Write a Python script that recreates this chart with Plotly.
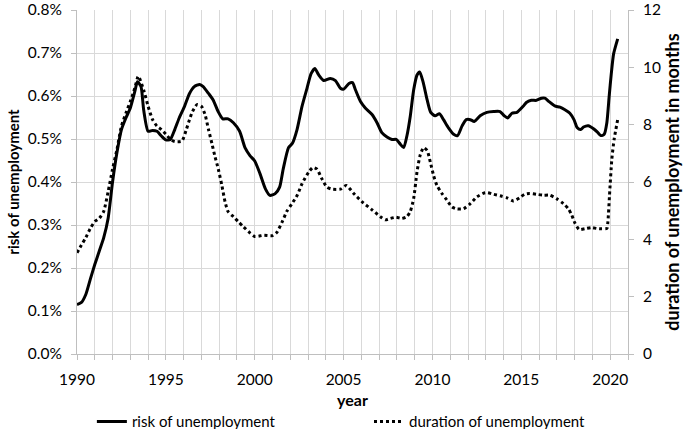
import plotly.graph_objects as go

# ---- data ----
risk_years = [1990.0, 1990.25, 1990.5, 1990.75, 1991.0, 1991.25, 1991.5, 1991.75, 1992.0, 1992.25,
              1992.5, 1992.75, 1993.0, 1993.25, 1993.4, 1993.6, 1993.75, 1994.0, 1994.25, 1994.5,
              1994.75, 1995.0, 1995.25, 1995.5, 1995.75, 1996.05, 1996.33, 1996.6, 1996.9, 1997.1,
              1997.4, 1997.66, 1997.94, 1998.2, 1998.5, 1998.8, 1999.15, 1999.45, 1999.74, 2000.0,
              2000.3, 2000.6, 2000.85, 2001.15, 2001.4, 2001.6, 2001.9, 2002.12, 2002.38, 2002.66,
              2002.94, 2003.17, 2003.38, 2003.6, 2003.88, 2004.25, 2004.54, 2004.82, 2005.0, 2005.3,
              2005.5, 2005.67, 2005.95, 2006.22, 2006.6, 2006.88, 2007.15, 2007.44, 2007.72, 2007.96,
              2008.19, 2008.38, 2008.56, 2008.75, 2008.94, 2009.13, 2009.28, 2009.47, 2009.7, 2009.9,
              2010.15, 2010.39, 2010.62, 2010.9, 2011.19, 2011.41, 2011.66, 2011.9, 2012.13, 2012.35,
              2012.68, 2013.06, 2013.44, 2013.8, 2014.04, 2014.23, 2014.47, 2014.75, 2015.1, 2015.28,
              2015.56, 2015.85, 2016.13, 2016.32, 2016.56, 2016.88, 2017.17, 2017.45, 2017.73, 2017.96,
              2018.15, 2018.34, 2018.5, 2018.77, 2019.06, 2019.28, 2019.47, 2019.66, 2019.81, 2019.94,
              2020.06, 2020.19, 2020.42]
risk_pct = [0.115, 0.120, 0.139, 0.174, 0.208, 0.239, 0.270, 0.315, 0.400, 0.469,
            0.522, 0.549, 0.572, 0.610, 0.633, 0.622, 0.568, 0.518, 0.520, 0.518,
            0.507, 0.498, 0.499, 0.522, 0.549, 0.576, 0.606, 0.622, 0.627, 0.622,
            0.606, 0.591, 0.564, 0.547, 0.547, 0.538, 0.518, 0.480, 0.461, 0.449,
            0.419, 0.384, 0.369, 0.373, 0.388, 0.430, 0.480, 0.490, 0.522, 0.576,
            0.618, 0.652, 0.664, 0.649, 0.636, 0.641, 0.636, 0.618, 0.616, 0.629,
            0.631, 0.614, 0.587, 0.572, 0.557, 0.538, 0.515, 0.505, 0.499, 0.499,
            0.488, 0.480, 0.507, 0.553, 0.614, 0.649, 0.656, 0.633, 0.591, 0.562,
            0.554, 0.559, 0.545, 0.526, 0.511, 0.508, 0.530, 0.545, 0.545, 0.541,
            0.554, 0.562, 0.564, 0.564, 0.554, 0.549, 0.560, 0.562, 0.576, 0.585,
            0.590, 0.590, 0.595, 0.595, 0.587, 0.577, 0.574, 0.568, 0.560, 0.545,
            0.526, 0.522, 0.528, 0.531, 0.524, 0.516, 0.508, 0.511, 0.538, 0.599,
            0.652, 0.698, 0.733]

dur_years = [1990.0, 1990.25, 1990.5, 1990.75, 1991.0, 1991.25, 1991.5, 1991.75, 1992.0, 1992.25,
             1992.5, 1992.75, 1993.0, 1993.25, 1993.45, 1993.75, 1994.0, 1994.25, 1994.5, 1994.75,
             1995.0, 1995.25, 1995.5, 1995.9, 1996.15, 1996.33, 1996.5, 1996.75, 1997.0, 1997.2,
             1997.4, 1997.6, 1997.75, 1997.95, 1998.15, 1998.33, 1998.5, 1998.8, 1999.07, 1999.36,
             1999.74, 2000.0, 2000.5, 2001.0, 2001.25, 2001.55, 2001.8, 2002.1, 2002.4, 2002.66,
             2003.04, 2003.28, 2003.5, 2003.78, 2004.06, 2004.34, 2004.82, 2005.15, 2005.57, 2006.04,
             2006.6, 2007.07, 2007.35, 2007.63, 2007.96, 2008.28, 2008.56, 2008.75, 2008.94, 2009.13,
             2009.3, 2009.5, 2009.7, 2009.88, 2010.06, 2010.25, 2010.53, 2010.81, 2011.1, 2011.38,
             2011.75, 2012.13, 2012.5, 2012.88, 2013.1, 2013.44, 2013.8, 2014.19, 2014.56, 2014.9,
             2015.18, 2015.47, 2015.85, 2016.23, 2016.6, 2016.98, 2017.36, 2017.64, 2017.83, 2018.02,
             2018.26, 2018.58, 2018.96, 2019.24, 2019.52, 2019.81, 2019.87, 2019.96, 2020.09, 2020.22,
             2020.42]
dur_months = [3.53, 3.80, 4.07, 4.38, 4.62, 4.73, 4.97, 5.66, 6.45, 7.14,
              7.95, 8.40, 8.81, 9.27, 9.69, 9.21, 8.64, 8.18, 7.95, 7.83,
              7.67, 7.49, 7.41, 7.43, 7.83, 8.18, 8.46, 8.70, 8.64, 8.36,
              7.83, 7.32, 6.92, 6.45, 5.88, 5.31, 4.97, 4.79, 4.62, 4.44,
              4.22, 4.10, 4.14, 4.13, 4.25, 4.62, 4.97, 5.25, 5.55, 5.94,
              6.35, 6.51, 6.45, 6.11, 5.82, 5.75, 5.75, 5.88, 5.60, 5.31,
              5.03, 4.79, 4.68, 4.73, 4.77, 4.73, 4.79, 4.97, 5.42, 6.35,
              6.92, 7.20, 7.10, 6.69, 6.23, 5.88, 5.60, 5.37, 5.13, 5.06,
              5.07, 5.25, 5.48, 5.61, 5.63, 5.57, 5.52, 5.45, 5.34, 5.45,
              5.57, 5.60, 5.57, 5.54, 5.54, 5.42, 5.25, 5.07, 4.85, 4.56,
              4.34, 4.37, 4.41, 4.38, 4.37, 4.38, 4.62, 5.54, 6.80, 7.49,
              8.18]

year_ticks = list(range(1990, 2022))
year_labels = [str(y) if y % 5 == 0 else "" for y in year_ticks]
risk_ticks = [0.0, 0.1, 0.2, 0.3, 0.4, 0.5, 0.6, 0.7, 0.8]
risk_labels = [f"{v:.1f}%" for v in risk_ticks]
dur_ticks = [0, 2, 4, 6, 8, 10, 12]

FONT = "Lato"
GRID = "#d9d9d9"
AXIS = "#bfbfbf"
TICKSIZE = 15.5

fig = go.Figure()
fig.add_trace(go.Scatter(
    x=risk_years, y=risk_pct, name="risk of unemployment", mode="lines",
    line=dict(color="black", width=3, shape="spline", smoothing=0.6),
    yaxis="y", legend="legend"))
fig.add_trace(go.Scatter(
    x=dur_years, y=dur_months, name="duration of unemployment", mode="lines",
    line=dict(color="black", width=3, dash="dot", shape="spline", smoothing=0.6),
    yaxis="y2", legend="legend2"))

legend_common = dict(orientation="h", yanchor="middle", xanchor="left",
                     font=dict(family=FONT, size=15, color="black"),
                     bgcolor="rgba(0,0,0,0)", itemwidth=30)

fig.update_layout(
    width=685, height=429,
    margin=dict(l=77, r=57, t=10, b=75, pad=0, autoexpand=False),
    paper_bgcolor="white", plot_bgcolor="white",
    font=dict(family=FONT, size=15, color="black"),
    showlegend=True,
    legend=dict(x=0.027, y=-0.197, **legend_common),
    legend2=dict(x=0.53, y=-0.197, **legend_common),
    xaxis=dict(range=[1990, 2021], tickmode="array", tickvals=year_ticks, ticktext=year_labels,
               showgrid=True, gridcolor=GRID, gridwidth=1, zeroline=False,
               showline=True, linecolor=AXIS, linewidth=1, automargin=False,
               ticks="outside", ticklen=5, tickcolor=AXIS, ticklabelstandoff=6,
               ticklabeloverflow="allow",
               tickfont=dict(family=FONT, size=TICKSIZE),
               title=dict(text="<b>year</b>", font=dict(family=FONT, size=16), standoff=8)),
    yaxis=dict(range=[0, 0.8001], tickmode="array", tickvals=risk_ticks, ticktext=risk_labels,
               showgrid=True, gridcolor=GRID, gridwidth=1, zeroline=False,
               showline=True, linecolor=AXIS, linewidth=1, automargin=False,
               ticks="outside", ticklen=5, tickcolor=AXIS, ticklabelstandoff=6,
               ticklabeloverflow="allow",
               tickfont=dict(family=FONT, size=TICKSIZE),
               title=dict(text="<b>risk of unemployment</b>", font=dict(family=FONT, size=15),
                          standoff=4)),
    yaxis2=dict(range=[0, 12.001], tickmode="array", tickvals=dur_ticks,
                overlaying="y", side="right", anchor="x",
                showgrid=False, zeroline=False, automargin=False,
                showline=True, linecolor=AXIS, linewidth=1,
                ticks="outside", ticklen=5, tickcolor=AXIS, ticklabelstandoff=6,
                ticklabeloverflow="allow",
                tickfont=dict(family=FONT, size=TICKSIZE),
                title=dict(text="<b>duration of unemployment in months</b>",
                           font=dict(family=FONT, size=18), standoff=0)),
)

fig.write_html("out.html", config={"displayModeBar": False},
               post_script="document.body.style.margin='0';document.body.style.overflow='hidden';")
